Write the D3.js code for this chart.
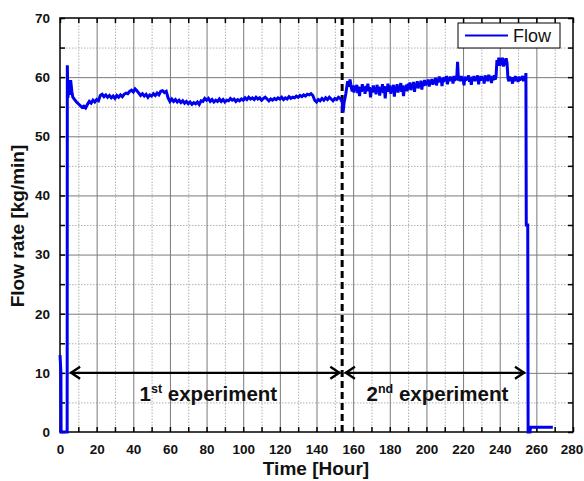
<!DOCTYPE html>
<html>
<head>
<meta charset="utf-8">
<script src="https://cdn.jsdelivr.net/npm/d3@7/dist/d3.min.js"></script>
<style>
  html, body { margin: 0; padding: 0; background: #fff; }
  svg { display: block; font-family: "Liberation Sans", Arial, sans-serif; }
</style>
</head>
<body>
<svg id="chart" width="584" height="481"></svg>
<script>
// ---------------- DATA ----------------
const xTicks = [0, 20, 40, 60, 80, 100, 120, 140, 160, 180, 200, 220, 240, 260, 280];
const yTicks = [0, 10, 20, 30, 40, 50, 60, 70];
const xMinor = [10, 30, 50, 70, 90, 110, 130, 150, 170, 190, 210, 230, 250, 270];
const yMinor = [5, 15, 25, 35, 45, 55, 65];

// start-up [hour, kg/min]
const startup = [[0, 13], [0.2, 12], [0.5, 10], [0.6, 0], [3.9, 0], [4.0, 62], [4.3, 56.5],
  [4.8, 58], [5.3, 57], [5.8, 59.5], [6.5, 57.5]];

// 1st experiment, hourly readings from 7 h to 153 h
const exp1Start = 7, exp1Step = 1;
const exp1Flow = [56.6, 56.2, 55.8, 55.5, 55.2, 54.9, 55.1, 54.8, 55.4, 55.9, 55.6, 56.1, 55.8, 56.2,
  56.0, 56.9, 57.1, 56.7, 57.0, 56.6, 56.9, 56.5, 56.8, 56.4, 56.9, 56.6, 57.0, 56.7, 57.1, 57.3,
  57.2, 57.6, 57.8, 57.5, 58.0, 57.7, 57.3, 56.9, 57.2, 56.8, 57.1, 56.6, 57.0, 56.8, 57.2, 56.9,
  57.3, 57.0, 57.6, 57.7, 57.4, 57.6, 56.5, 55.9, 56.3, 55.9, 56.2, 55.8, 56.1, 55.7, 56.0, 55.6,
  55.9, 55.5, 55.8, 55.4, 55.7, 55.5, 55.8, 55.4, 56.0, 55.9, 56.4, 56.1, 56.4, 55.9, 56.2, 55.8,
  56.1, 55.9, 56.3, 55.9, 56.2, 55.8, 56.1, 56.0, 56.4, 56.1, 56.3, 55.9, 56.2, 56.0, 56.3, 56.1,
  56.5, 56.2, 56.6, 56.3, 56.5, 56.2, 56.6, 56.3, 56.5, 56.1, 56.4, 56.6, 56.3, 56.0, 56.3, 56.1,
  56.4, 56.2, 56.5, 56.3, 56.6, 56.2, 56.5, 56.3, 56.7, 56.4, 56.6, 56.5, 56.8, 56.6, 56.9, 56.7,
  57.0, 56.8, 57.1, 57.0, 57.2, 56.9, 56.1, 55.8, 56.2, 56.0, 56.4, 56.1, 56.5, 56.2, 56.6, 56.3,
  56.0, 56.4, 56.2, 56.6, 56.4];

// change-over between experiments [hour, kg/min]
const changeover = [[154, 55.8], [154.5, 54.0], [155, 55.6], [156, 57.2], [157, 59.3], [157.5, 58.4],
  [158.3, 59.6], [159, 58.2]];

// 2nd experiment, half-hourly readings from 159.5 h to 254 h
const exp2Start = 159.5, exp2Step = 0.5;
const exp2Flow = [57.6, 58.6, 57.4, 58.5, 57.8, 58.7, 57.3, 58.4, 56.8, 58.3, 57.5, 58.8, 57.7, 58.4,
  57.2, 58.5, 57.6, 58.9, 57.9, 58.3, 56.6, 58.1, 57.4, 58.6, 57.5, 58.2, 57.1, 58.7, 57.8, 58.4,
  56.9, 58.2, 57.6, 58.8, 57.3, 58.5, 56.4, 58.3, 57.7, 58.9, 57.5, 58.6, 57.2, 58.4, 57.9, 58.7,
  56.7, 58.5, 57.6, 58.8, 57.4, 58.3, 57.8, 59.0, 57.5, 58.6, 56.8, 58.4, 57.9, 58.7, 57.6, 58.9,
  58.0, 59.1, 57.8, 58.8, 58.2, 59.2, 57.5, 58.9, 58.3, 59.3, 58.1, 59.0, 58.4, 59.4, 57.9, 59.2,
  58.5, 59.5, 58.6, 59.3, 58.8, 59.6, 58.4, 59.4, 58.9, 59.7, 58.7, 59.5, 59.0, 59.9, 58.6, 59.7,
  59.1, 60.1, 59.3, 59.8, 58.5, 59.9, 59.2, 60.0, 59.4, 60.2, 58.8, 59.9, 59.3, 60.1, 59.5, 60.0,
  58.9, 60.2, 59.4, 59.9, 59.6, 62.6, 59.4, 60.0, 59.3, 60.2, 59.5, 59.9, 58.6, 60.1, 59.4, 60.0,
  59.6, 60.3, 59.2, 59.9, 58.7, 60.1, 59.5, 60.2, 59.3, 60.0, 59.6, 60.3, 58.8, 60.1, 59.4, 60.2,
  59.5, 60.0, 58.9, 60.3, 59.6, 60.1, 59.3, 60.4, 59.7, 60.2, 59.0, 60.1, 59.5, 60.3, 59.6, 60.1,
  62.9, 62.0, 63.3, 61.9, 63.2, 62.1, 63.3, 61.8, 63.1, 62.0, 63.2, 62.4, 59.8, 59.3, 60.1, 59.4,
  59.9, 58.9, 60.0, 59.3, 60.2, 59.5, 59.9, 59.2, 60.1, 59.4, 60.0, 59.6, 60.2, 59.3, 60.0, 59.5];

// shut-down [hour, kg/min]
const shutdown = [[254.3, 60.7], [254.5, 35], [255.3, 35], [255.5, 0], [256.5, 0], [256.8, 0.8], [269, 0.8]];

// annotations
const expSplit = 154;
const arrowLevel = 10;
const exp1Range = [5.5, 153];
const exp2Range = [155.5, 253.8];
const exp1Label = { x: 81, main: "1", sup: "st", rest: " experiment" };
const exp2Label = { x: 206, main: "2", sup: "nd", rest: " experiment" };
const xTitle = "Time [Hour]";
const yTitle = "Flow rate [kg/min]";
const legendLabel = "Flow";

// ---------------- BUILD ----------------
const series = [].concat(
  startup,
  exp1Flow.map((v, i) => [exp1Start + i * exp1Step, v]),
  changeover,
  exp2Flow.map((v, i) => [exp2Start + i * exp2Step, v]),
  shutdown
);

const svg = d3.select("#chart");
const L = 60, T = 18, R = 573, B = 432;
const W = R - L, H = B - T;
const x = d3.scaleLinear().domain([0, 280]).range([L, R]);
const y = d3.scaleLinear().domain([0, 70]).range([B, T]);

// minor (dotted) grid
svg.append("g").attr("transform", `translate(0,${B})`)
  .call(d3.axisBottom(x).tickValues(xMinor).tickSize(-H).tickFormat(""))
  .call(g => g.select(".domain").remove())
  .selectAll("line").attr("stroke", "#b0b0b0").attr("stroke-width", 1).attr("stroke-dasharray", "1.5,1.5");
svg.append("g").attr("transform", `translate(${L},0)`)
  .call(d3.axisLeft(y).tickValues(yMinor).tickSize(-W).tickFormat(""))
  .call(g => g.select(".domain").remove())
  .selectAll("line").attr("stroke", "#b0b0b0").attr("stroke-width", 1).attr("stroke-dasharray", "1.5,1.5");

// major grid
svg.append("g").attr("transform", `translate(0,${B})`)
  .call(d3.axisBottom(x).tickValues(xTicks.slice(1, -1)).tickSize(-H).tickFormat(""))
  .call(g => g.select(".domain").remove())
  .selectAll("line").attr("stroke", "#7a7a7a").attr("stroke-width", 1);
svg.append("g").attr("transform", `translate(${L},0)`)
  .call(d3.axisLeft(y).tickValues(yTicks.slice(1, -1)).tickSize(-W).tickFormat(""))
  .call(g => g.select(".domain").remove())
  .selectAll("line").attr("stroke", "#7a7a7a").attr("stroke-width", 1);

// inward ticks, all four sides
const allX = xTicks.concat(xMinor), allY = yTicks.concat(yMinor);
function tickStyle(g) {
  g.select(".domain").remove();
  g.selectAll("line").attr("stroke", "#000").attr("stroke-width", 1.5);
}
svg.append("g").attr("transform", `translate(0,${B})`)
  .call(d3.axisBottom(x).tickValues(allX).tickSize(-5).tickFormat("")).call(tickStyle);
svg.append("g").attr("transform", `translate(0,${T})`)
  .call(d3.axisTop(x).tickValues(allX).tickSize(-5).tickFormat("")).call(tickStyle);
svg.append("g").attr("transform", `translate(${L},0)`)
  .call(d3.axisLeft(y).tickValues(allY).tickSize(-5).tickFormat("")).call(tickStyle);
svg.append("g").attr("transform", `translate(${R},0)`)
  .call(d3.axisRight(y).tickValues(allY).tickSize(-5).tickFormat("")).call(tickStyle);

// tick labels
const xl = svg.append("g").attr("transform", `translate(0,${B})`)
  .call(d3.axisBottom(x).tickValues(xTicks).tickSize(0).tickPadding(12));
xl.select(".domain").remove();
xl.selectAll("text").attr("font-family", "Liberation Sans, Arial, sans-serif")
  .attr("font-size", 13.5).attr("font-weight", "bold").attr("fill", "#111");
xl.selectAll("text").filter(d => d === 280).attr("dx", -1.5);
const yl = svg.append("g").attr("transform", `translate(${L},0)`)
  .call(d3.axisLeft(y).tickValues(yTicks).tickSize(0).tickPadding(10));
yl.select(".domain").remove();
yl.selectAll("text").attr("font-family", "Liberation Sans, Arial, sans-serif")
  .attr("font-size", 13.5).attr("font-weight", "bold").attr("fill", "#111");

// frame
svg.append("rect").attr("x", L).attr("y", T).attr("width", W).attr("height", H)
  .attr("fill", "none").attr("stroke", "#000").attr("stroke-width", 1.5);

// dashed split line
svg.append("line").attr("x1", x(expSplit)).attr("x2", x(expSplit)).attr("y1", y(70)).attr("y2", y(0))
  .attr("stroke", "#000").attr("stroke-width", 3).attr("stroke-dasharray", "7,4");

// data line
svg.append("path").datum(series)
  .attr("d", d3.line().x(d => x(d[0])).y(d => y(d[1])))
  .attr("fill", "none").attr("stroke", "#0000ee").attr("stroke-width", 3)
  .attr("stroke-linejoin", "miter").attr("stroke-miterlimit", 2);

// arrows
function arrow(r) {
  const x0 = x(r[0]), x1 = x(r[1]), yy = y(arrowLevel);
  const g = svg.append("g").attr("stroke", "#000").attr("stroke-width", 2.4).attr("fill", "none");
  g.append("line").attr("x1", x0).attr("x2", x1).attr("y1", yy).attr("y2", yy);
  g.append("path").attr("d", `M${x0 + 10},${yy - 6}L${x0 + 1},${yy}L${x0 + 10},${yy + 6}`);
  g.append("path").attr("d", `M${x1 - 10},${yy - 6}L${x1 - 1},${yy}L${x1 - 10},${yy + 6}`);
}
arrow(exp1Range);
arrow(exp2Range);

function expLabel(lab) {
  const t = svg.append("text").attr("x", x(lab.x)).attr("y", 401).attr("text-anchor", "middle")
    .attr("font-size", 20.5).attr("font-weight", "bold").attr("fill", "#111");
  t.append("tspan").text(lab.main);
  t.append("tspan").attr("font-size", 12.5).attr("dy", -8).text(lab.sup);
  t.append("tspan").attr("dy", 8).text(lab.rest);
}
expLabel(exp1Label);
expLabel(exp2Label);

// axis titles
svg.append("text").attr("x", 316).attr("y", 475).attr("text-anchor", "middle")
  .attr("font-size", 19).attr("font-weight", "bold").attr("fill", "#111").text(xTitle);
svg.append("text").attr("transform", "translate(24,226) rotate(-90)").attr("text-anchor", "middle")
  .attr("font-size", 19).attr("font-weight", "bold").attr("fill", "#111").text(yTitle);

// legend
const lg = svg.append("g");
lg.append("rect").attr("x", 458).attr("y", 23).attr("width", 102).attr("height", 25)
  .attr("fill", "#fff").attr("stroke", "#000").attr("stroke-width", 1);
lg.append("line").attr("x1", 465).attr("x2", 508).attr("y1", 35.5).attr("y2", 35.5)
  .attr("stroke", "#0000ee").attr("stroke-width", 2);
lg.append("text").attr("x", 513).attr("y", 42).attr("font-size", 18).attr("fill", "#111").text(legendLabel);
</script>
</body>
</html>
